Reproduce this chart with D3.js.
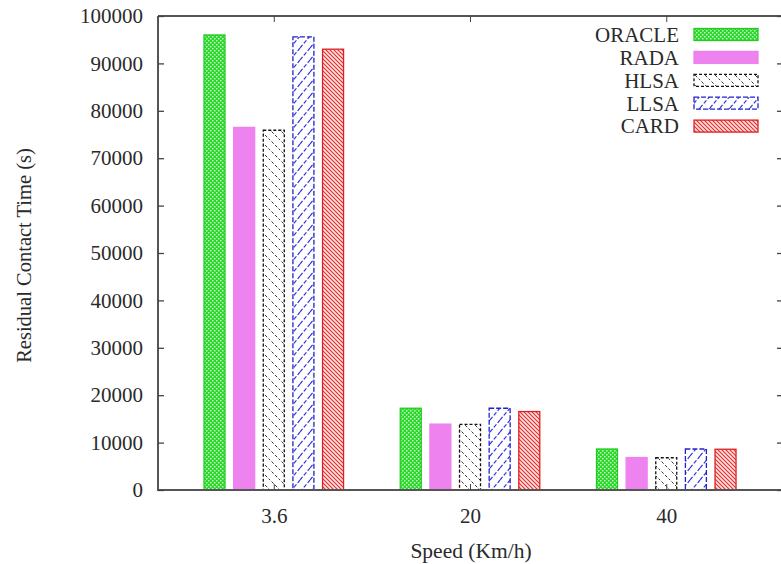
<!DOCTYPE html>
<html><head><meta charset="utf-8">
<script src="https://cdn.jsdelivr.net/npm/d3@7"></script>
<style>body{margin:0;background:#fff}svg{display:block}</style>
</head><body>
<svg id="c" width="781" height="564"></svg>
<script>
const categories = ["3.6", "20", "40"];
const seriesNames = ["ORACLE", "RADA", "HLSA", "LLSA", "CARD"];
const oracle = [96000, 17250, 8650];
const rada = [76500, 13900, 6850];
const hlsa = [75900, 13850, 6800];
const llsa = [95600, 17250, 8650];
const card = [93000, 16550, 8600];
const yTicks = [0, 10000, 20000, 30000, 40000, 50000, 60000, 70000, 80000, 90000, 100000];
const values = [oracle, rada, hlsa, llsa, card];

const svg = d3.select("#c");
const L = 158, R = 784, T = 16, B = 490;
const x = d3.scaleLinear().domain([-0.59, 2.6]).range([L, R]);
const y = d3.scaleLinear().domain([0, 100000]).range([B, T]);
const font = "'Liberation Serif', 'Times New Roman', serif";
const axisCol = "#555";
const txtCol = "#2a2a2a";

const defs = svg.append("defs");
// ORACLE green checker
let p = defs.append("pattern").attr("id","pOracle").attr("patternUnits","userSpaceOnUse").attr("width",4).attr("height",4);
p.append("rect").attr("width",4).attr("height",4).attr("fill","#2ad82a");
p.append("rect").attr("x",0).attr("y",0).attr("width",1.5).attr("height",1.5).attr("fill","#c8f5c8");
p.append("rect").attr("x",2).attr("y",2).attr("width",1.5).attr("height",1.5).attr("fill","#c8f5c8");
// HLSA black dashed backslash
p = defs.append("pattern").attr("id","pHlsa").attr("patternUnits","userSpaceOnUse").attr("width",10).attr("height",10);
p.append("rect").attr("width",10).attr("height",10).attr("fill","#fff");
p.append("path").attr("d","M-2,-2 L12,12 M-2,8 L2,12 M8,-2 L12,2").attr("stroke","#333").attr("stroke-width",1).attr("stroke-dasharray","3,2");
// LLSA blue dashed slash
p = defs.append("pattern").attr("id","pLlsa").attr("patternUnits","userSpaceOnUse").attr("width",10).attr("height",12);
p.append("rect").attr("width",10).attr("height",12).attr("fill","#fff");
p.append("path").attr("d","M0,12 L10,0 M-5,6 L0,0 M10,12 L15,6").attr("stroke","#3333dd").attr("stroke-width",1.2).attr("stroke-dasharray","4,2");
// CARD red dense backslash
p = defs.append("pattern").attr("id","pCard").attr("patternUnits","userSpaceOnUse").attr("width",4).attr("height",4);
p.append("rect").attr("width",4).attr("height",4).attr("fill","#fbe0e0");
p.append("path").attr("d","M-1,-1 L5,5 M-1,3 L1,5 M3,-1 L5,1").attr("stroke","#e03030").attr("stroke-width",1.1);

const styles = [
  {fill:"url(#pOracle)", stroke:"#22cc22", dash:null},
  {fill:"#ee82ee", stroke:"#ee82ee", dash:null},
  {fill:"url(#pHlsa)", stroke:"#111", dash:"3,2"},
  {fill:"url(#pLlsa)", stroke:"#2222cc", dash:"5,2"},
  {fill:"url(#pCard)", stroke:"#e02020", dash:null}
];

const step = 29.6 / 196; // bar pitch in category units
const bw = x(0.107) - x(0);

// bars
values.forEach((arr, s) => {
  const st = styles[s];
  svg.append("g").selectAll("rect").data(arr).join("rect")
    .attr("x", (d,i) => x(i + (s-2)*step) - bw/2)
    .attr("y", d => y(d))
    .attr("width", bw)
    .attr("height", d => y(0) - y(d))
    .attr("fill", st.fill)
    .attr("stroke", st.stroke)
    .attr("stroke-width", 1.3)
    .attr("stroke-dasharray", st.dash);
});

// frame
svg.append("path").attr("d", `M${L},${T} H${781} M${L},${T} V${B} H${781}`)
  .attr("fill","none").attr("stroke",axisCol).attr("stroke-width",2);

// y axis
const yAxis = d3.axisLeft(y).tickValues(yTicks).tickSize(-6).tickPadding(15).tickFormat(d3.format("d"));
const gy = svg.append("g").attr("transform",`translate(${L},0)`).call(yAxis);
gy.select(".domain").remove();
gy.selectAll(".tick line").attr("stroke","#444").attr("stroke-width",1.3);
gy.selectAll("text").attr("font-family",font).attr("font-size",21).attr("fill",txtCol);
// right ticks
const gyr = svg.append("g").attr("transform",`translate(${R},0)`).call(d3.axisRight(y).tickValues(yTicks).tickSize(-7).tickFormat(""));
gyr.select(".domain").remove();
gyr.selectAll(".tick line").attr("stroke","#444").attr("stroke-width",1.3);

// x axis
const gx = svg.append("g").attr("transform",`translate(0,${B})`)
  .call(d3.axisBottom(x).tickValues([0,1,2]).tickSize(-6).tickPadding(18).tickFormat(i => categories[i]));
gx.select(".domain").remove();
gx.selectAll(".tick line").attr("stroke","#444");
gx.selectAll("text").attr("font-family",font).attr("font-size",21).attr("fill",txtCol);
const gxt = svg.append("g").attr("transform",`translate(0,${T})`)
  .call(d3.axisTop(x).tickValues([0,1,2]).tickSize(-6).tickFormat(""));
gxt.select(".domain").remove();
gxt.selectAll(".tick line").attr("stroke","#444");

// labels
svg.append("text").attr("x", (L+R)/2).attr("y", 558).attr("text-anchor","middle")
  .attr("font-family",font).attr("font-size",21.5).attr("fill",txtCol).text("Speed (Km/h)");
svg.append("text").attr("transform","translate(31,255.5) rotate(-90)").attr("text-anchor","middle")
  .attr("font-family",font).attr("font-size",20.5).attr("fill",txtCol).text("Residual Contact Time (s)");

// legend
const lg = svg.append("g");
seriesNames.forEach((n, i) => {
  const cy = 34.5 + i*22.9;
  lg.append("text").attr("x", 679).attr("y", cy).attr("dy","0.35em").attr("text-anchor","end")
    .attr("font-family",font).attr("font-size",21).attr("fill",txtCol).text(n);
  lg.append("rect").attr("x", 694).attr("y", cy-6).attr("width", 64).attr("height", 12)
    .attr("fill", styles[i].fill).attr("stroke", styles[i].stroke).attr("stroke-width",1.3)
    .attr("stroke-dasharray", styles[i].dash);
});
</script>
</body></html>
